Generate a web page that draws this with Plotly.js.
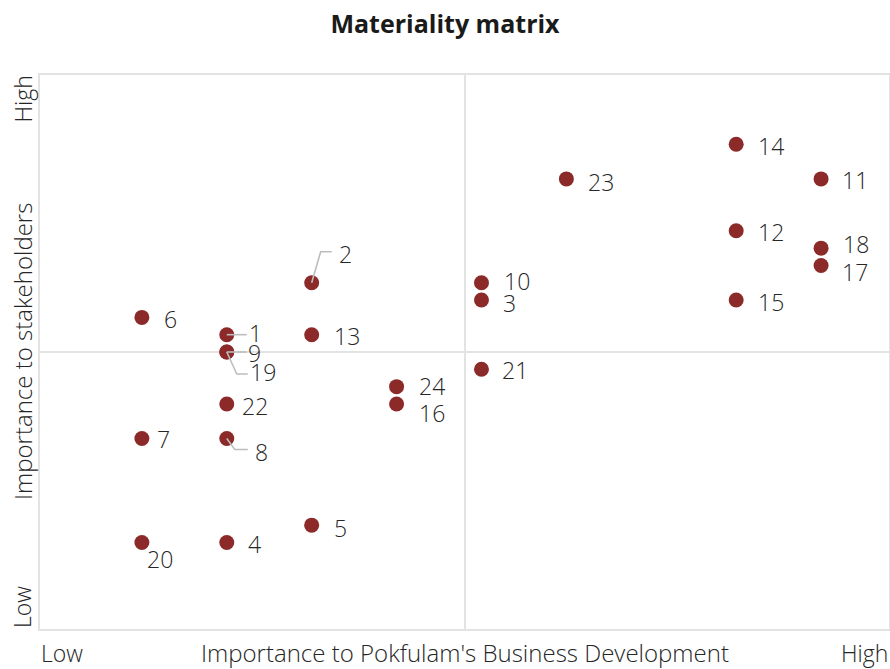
<!DOCTYPE html>
<html>
<head>
<meta charset="utf-8">
<script src="https://cdn.plot.ly/plotly-3.0.1.min.js"></script>
<style>html,body{margin:0;padding:0;background:#fff}#chart{width:890px;height:669px}</style>
</head>
<body>
<div id="chart"></div>
<script>
// ---- data ----
const topicIds = ["1","2","3","4","5","6","7","8","9","10","11","12","13","14","15","16","17","18","19","20","21","22","23","24"];
const businessImportance = [2.2,3.2,5.2,2.2,3.2,1.2,1.2,2.2,2.2,5.2,9.2,8.2,3.2,8.2,8.2,4.2,9.2,9.2,2.2,1.2,5.2,2.2,6.2,4.2];
const stakeholderImportance = [17,20,19,5,6,18,11,11,16,20,26,23,17,28,19,13,21,22,16,5,15,13,26,14];
const xTickLabels = ["Low","High"];
const yTickLabels = ["Low","High"];

// ---- label placement (pixel offsets from point: dx right, dy down) ----
const labelOffsets = {
  "1":[23,-2],"2":[28,-29],"3":[23,3],"4":[22,2],"5":[23,3],"6":[23,2],
  "7":[16,0],"8":[29,13],"9":[22,1],"10":[24,-2],"11":[22,1],"12":[23,1],
  "13":[23,1],"14":[23,2],"15":[23,2],"16":[23,9],"17":[22,7],"18":[23,-4],
  "19":[24,20],"20":[6,17],"21":[22,1],"22":[16,2],"23":[23,3],"24":[23,-1]
};
// leader lines in pixels relative to point (screen coords, y down)
const leaders = {
  "2":[[0,0],[9,-31],[20,-31]],
  "1":[[0,0],[20,0]],
  "9":[[0,0],[20,0]],
  "19":[[0,0],[10,22],[21,22]],
  "8":[[0,0],[8,11],[21,11]]
};

const FONT = "'Open Sans', 'Noto Sans', sans-serif";
const TXT = "#262626";
const FS = 23;
const gridCol = "#e3e3e3";

const annotations = [];
topicIds.forEach((id,i)=>{
  const off = labelOffsets[id] || [20,0];
  annotations.push({
    x: businessImportance[i], y: stakeholderImportance[i], xref:"x", yref:"y",
    text: id, showarrow:false, xanchor:"left", yanchor:"middle", borderpad:0,
    xshift: off[0]-2, yshift: -off[1],
    font:{family:FONT, size:FS, color:TXT, weight:300}
  });
});
// axis end labels and titles
const axFont = {family:FONT, size:FS, color:TXT, weight:300};
const axTitleFont = {family:FONT, size:24, color:TXT, weight:300};
annotations.push(
  {xref:"paper",yref:"paper",x:0,y:0,yshift:-24,xanchor:"left",yanchor:"middle",borderpad:0,text:xTickLabels[0],showarrow:false,font:axFont},
  {xref:"paper",yref:"paper",x:1,y:0,yshift:-24,xanchor:"right",yanchor:"middle",borderpad:0,text:xTickLabels[1],showarrow:false,font:axFont},
  {xref:"paper",yref:"paper",x:0.5,y:0,yshift:-23,xanchor:"center",yanchor:"middle",borderpad:0,text:"Importance to Pokfulam's Business Development",showarrow:false,font:axTitleFont},
  {xref:"paper",yref:"paper",x:0,y:0,xshift:-18,xanchor:"center",yanchor:"bottom",borderpad:0,textangle:-90,text:yTickLabels[0],showarrow:false,font:axFont},
  {xref:"paper",yref:"paper",x:0,y:1,xshift:-18,xanchor:"center",yanchor:"top",borderpad:0,textangle:-90,text:yTickLabels[1],showarrow:false,font:axFont},
  {xref:"paper",yref:"paper",x:0,y:0.5,xshift:-18,xanchor:"center",yanchor:"middle",borderpad:0,textangle:-90,text:"Importance to stakeholders",showarrow:false,font:axTitleFont}
);

const shapes = [];
topicIds.forEach((id,i)=>{
  const pts = leaders[id];
  if(!pts) return;
  const path = pts.map((p,k)=>(k?"L":"M")+p[0]+","+(-p[1])).join(" ");
  shapes.push({type:"path", xref:"x", yref:"y", xsizemode:"pixel", ysizemode:"pixel",
    xanchor: businessImportance[i], yanchor: stakeholderImportance[i],
    path: path, layer:"above", line:{color:"#bdbdbd", width:1.6}});
});

const trace = {
  type:"scatter", mode:"markers",
  x: businessImportance, y: stakeholderImportance, text: topicIds,
  marker:{size:15, color:"#8c2a2a"},
  hoverinfo:"text", cliponaxis:false
};

const layout = {
  width:890, height:669,
  margin:{l:40, r:1, t:75, b:40},
  paper_bgcolor:"#fff", plot_bgcolor:"#fff",
  title:{text:"<b>Materiality matrix</b>", x:0.5, xanchor:"center", y:0.964, yanchor:"middle",
    font:{family:FONT, size:25, color:"#1a1a1a"}},
  showlegend:false,
  xaxis:{range:[0,10], tickvals:[5], showticklabels:false, ticks:"", showgrid:true, gridcolor:gridCol, gridwidth:2,
    zeroline:false, showline:true, mirror:true, linecolor:gridCol, linewidth:2, fixedrange:true},
  yaxis:{range:[0,32], tickvals:[16], showticklabels:false, ticks:"", showgrid:true, gridcolor:gridCol, gridwidth:2,
    zeroline:false, showline:true, mirror:true, linecolor:gridCol, linewidth:2, fixedrange:true},
  annotations: annotations,
  shapes: shapes
};

Plotly.newPlot("chart", [trace], layout, {displayModeBar:false, staticPlot:true});
</script>
</body>
</html>
